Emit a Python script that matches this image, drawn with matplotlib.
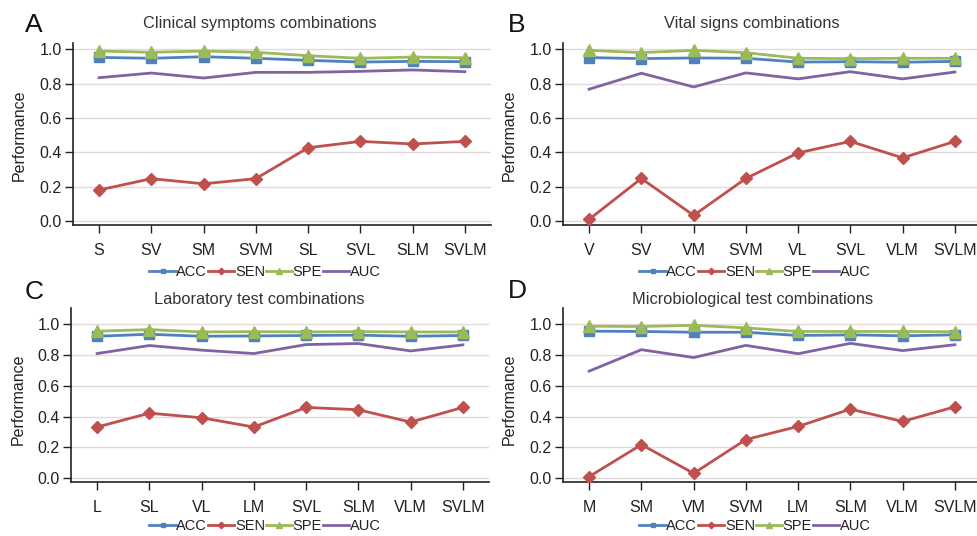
import matplotlib
matplotlib.use('Agg')
import matplotlib.pyplot as plt

plt.rcParams['font.family'] = ['Liberation Sans', 'DejaVu Sans']

# categories per panel
cats_a = ['S', 'SV', 'SM', 'SVM', 'SL', 'SVL', 'SLM', 'SVLM']
cats_b = ['V', 'SV', 'VM', 'SVM', 'VL', 'SVL', 'VLM', 'SVLM']
cats_c = ['L', 'SL', 'VL', 'LM', 'SVL', 'SLM', 'VLM', 'SVLM']
cats_d = ['M', 'SM', 'VM', 'SVM', 'LM', 'SLM', 'VLM', 'SVLM']

# A: clinical symptoms
acc_a = [0.953, 0.948, 0.957, 0.948, 0.936, 0.926, 0.930, 0.928]
sen_a = [0.181, 0.247, 0.217, 0.247, 0.427, 0.464, 0.449, 0.464]
spe_a = [0.990, 0.983, 0.990, 0.983, 0.963, 0.948, 0.955, 0.951]
auc_a = [0.835, 0.862, 0.833, 0.866, 0.866, 0.872, 0.880, 0.870]

# B: vital signs
acc_b = [0.952, 0.946, 0.950, 0.948, 0.926, 0.928, 0.925, 0.930]
sen_b = [0.010, 0.248, 0.033, 0.248, 0.397, 0.464, 0.368, 0.464]
spe_b = [0.994, 0.981, 0.994, 0.981, 0.948, 0.946, 0.948, 0.948]
auc_b = [0.768, 0.861, 0.781, 0.863, 0.828, 0.870, 0.828, 0.868]

# C: laboratory test
acc_c = [0.920, 0.933, 0.920, 0.922, 0.925, 0.927, 0.920, 0.925]
sen_c = [0.332, 0.422, 0.392, 0.332, 0.459, 0.444, 0.364, 0.459]
spe_c = [0.953, 0.963, 0.948, 0.950, 0.948, 0.950, 0.948, 0.948]
auc_c = [0.808, 0.860, 0.830, 0.808, 0.866, 0.873, 0.825, 0.864]

# D: microbiological test
acc_d = [0.953, 0.951, 0.946, 0.946, 0.925, 0.929, 0.923, 0.929]
sen_d = [0.011, 0.218, 0.032, 0.251, 0.336, 0.448, 0.368, 0.463]
spe_d = [0.985, 0.983, 0.991, 0.974, 0.951, 0.951, 0.951, 0.949]
auc_d = [0.694, 0.833, 0.782, 0.861, 0.807, 0.874, 0.827, 0.865]

titles = ['Clinical symptoms combinations', 'Vital signs combinations',
          'Laboratory test combinations', 'Microbiological test combinations']
letters = ['A', 'B', 'C', 'D']

C_ACC = '#4F81BD'
C_SEN = '#C0504D'
C_SPE = '#9BBB59'
C_AUC = '#8064A2'

W, H = 977, 536
fig = plt.figure(figsize=(W / 100, H / 100), dpi=100)


def px(l, t, r, b):
    return [l / W, 1 - b / H, (r - l) / W, (b - t) / H]


panels = [
    (px(73, 43, 491, 225), cats_a, acc_a, sen_a, spe_a, auc_a, (-0.023, 1.037)),
    (px(563, 43, 981, 225), cats_b, acc_b, sen_b, spe_b, auc_b, (-0.023, 1.037)),
    (px(71, 308, 489, 482), cats_c, acc_c, sen_c, spe_c, auc_c, (-0.024, 1.103)),
    (px(563, 308, 981, 482), cats_d, acc_d, sen_d, spe_d, auc_d, (-0.024, 1.103)),
]

# text anchors (pixels)
letter_pos = [(25, 32), (508, 32), (25, 299), (508, 298)]
title_pos = [(260, 28), (752, 28), (259, 304), (753, 304)]
ylab_pos = [(19, 135), (509, 135), (18, 399), (509, 399)]
leg_pos = [(265, 272), (755, 272), (265, 526), (755, 526)]

for i, (rect, cats, acc, sen, spe, auc, ylim) in enumerate(panels):
    ax = fig.add_axes(rect)
    x = range(len(cats))
    ax.plot(x, auc, color=C_AUC, lw=2, label='AUC', zorder=3)
    ax.plot(x, sen, color=C_SEN, lw=2, marker='D', ms=6, label='SEN', zorder=3)
    ax.plot(x, acc, color=C_ACC, lw=2, marker='s', ms=6.5, label='ACC', zorder=3)
    ax.plot(x, spe, color=C_SPE, lw=2, marker='^', ms=8.5, label='SPE', zorder=4)
    ax.set_xlim(-0.5, 7.5)
    ax.set_ylim(*ylim)
    ax.set_yticks([0, 0.2, 0.4, 0.6, 0.8, 1.0])
    ax.set_yticklabels(['0.0', '0.2', '0.4', '0.6', '0.8', '1.0'])
    ax.set_xticks(list(x))
    ax.set_xticklabels(cats)
    ax.yaxis.grid(True, color='#E2DADA', lw=1)
    ax.set_axisbelow(True)
    for s in ['top', 'right']:
        ax.spines[s].set_visible(False)
    for s in ['left', 'bottom']:
        ax.spines[s].set_color('#222222')
        ax.spines[s].set_linewidth(1.2)
    ax.tick_params(axis='y', direction='out', length=6, width=1, color='#222222',
                   labelsize=11.5, pad=2, labelcolor='#222222')
    ax.tick_params(axis='x', direction='out', length=6, width=1, color='#222222',
                   labelsize=11.5, pad=7, labelcolor='#222222')

    lx, ly = letter_pos[i]
    fig.text(lx / W, 1 - ly / H, letters[i], fontsize=19, ha='left', va='baseline',
             color='#111111')
    tx, ty = title_pos[i]
    fig.text(tx / W, 1 - ty / H, titles[i], fontsize=11.8, ha='center', va='baseline',
             color='#333333')
    yx, yy = ylab_pos[i]
    fig.text(yx / W, 1 - yy / H, 'Performance', fontsize=11.5, rotation=90,
             ha='center', va='center', color='#222222')

    h, lab = ax.get_legend_handles_labels()
    order = [lab.index(n) for n in ['ACC', 'SEN', 'SPE', 'AUC']]
    handles = []
    for k in order:
        ln = h[k]
        hh, = ax.plot([], [], color=ln.get_color(), lw=2, marker=ln.get_marker(),
                      ms=ln.get_markersize() * 0.55)
        handles.append(hh)
    gx, gy = leg_pos[i]
    fig.legend(handles, ['ACC', 'SEN', 'SPE', 'AUC'], loc='center',
               bbox_to_anchor=(gx / W, 1 - gy / H), ncol=4, frameon=False,
               fontsize=10.5, handlelength=1.8, handletextpad=0.05,
               columnspacing=0.05, borderpad=0, labelcolor='#222222')

fig.savefig('out.png', dpi=100)
